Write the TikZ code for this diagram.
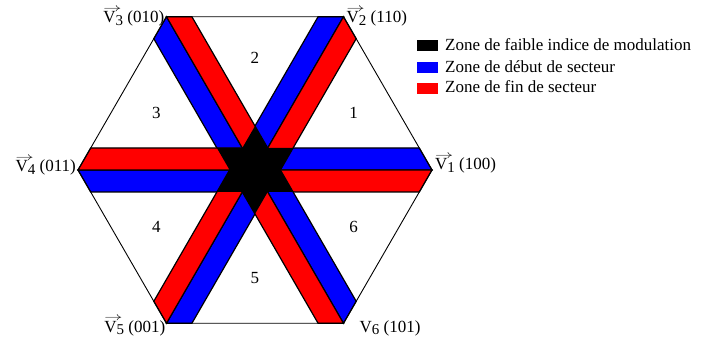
\documentclass[tikz,border=0pt]{standalone}
\usepackage{amsmath}
\usepackage{graphicx}
\usepackage{fontspec}
\setmainfont{Liberation Serif}
\usepackage{tikz}
\usetikzlibrary{positioning}

% vector name with a thin arrow and a lowered index
\newcommand{\vecV}[1]{\rlap{\raisebox{0.68em}{\scalebox{1.05}[0.65]{$\rightarrow$}}}V\raisebox{-0.15em}{\fontsize{15}{15}\selectfont #1}}

\begin{document}
\begin{tikzpicture}[
    x=1pt, y=1pt,
    blueband/.style={fill=blue, draw=black, line width=1.2pt, line join=miter},
    redband/.style={fill=red, draw=black, line width=1.2pt, line join=miter},
    lbl/.style={inner sep=0pt, font=\fontsize{17}{19}\selectfont},
    key/.style={minimum width=21pt, minimum height=11pt, inner sep=0pt, anchor=west}
]
\useasboundingbox (-255,-172) rectangle (455,170);

% hexagon corners
\coordinate (V1) at (0:177);
\coordinate (V2) at (60:177);
\coordinate (V3) at (120:177);
\coordinate (V4) at (180:177);
\coordinate (V5) at (240:177);
\coordinate (V6) at (300:177);

% bands, blue at the start of a sector, red at its end
\filldraw[blueband, rotate=0]   (0,0) -- (177,0) -- (164.3,22) -- (0,22) -- cycle;
\filldraw[redband,  rotate=0]   (0,0) -- (177,0) -- (164.3,-22) -- (0,-22) -- cycle;
\filldraw[blueband, rotate=60]  (0,0) -- (177,0) -- (164.3,22) -- (0,22) -- cycle;
\filldraw[redband,  rotate=60]  (0,0) -- (177,0) -- (164.3,-22) -- (0,-22) -- cycle;
\filldraw[blueband, rotate=120] (0,0) -- (177,0) -- (164.3,22) -- (0,22) -- cycle;
\filldraw[redband,  rotate=120] (0,0) -- (177,0) -- (164.3,-22) -- (0,-22) -- cycle;
\filldraw[blueband, rotate=180] (0,0) -- (177,0) -- (164.3,22) -- (0,22) -- cycle;
\filldraw[redband,  rotate=180] (0,0) -- (177,0) -- (164.3,-22) -- (0,-22) -- cycle;
\filldraw[blueband, rotate=240] (0,0) -- (177,0) -- (164.3,22) -- (0,22) -- cycle;
\filldraw[redband,  rotate=240] (0,0) -- (177,0) -- (164.3,-22) -- (0,-22) -- cycle;
\filldraw[blueband, rotate=300] (0,0) -- (177,0) -- (164.3,22) -- (0,22) -- cycle;
\filldraw[redband,  rotate=300] (0,0) -- (177,0) -- (164.3,-22) -- (0,-22) -- cycle;

% low modulation index star
\fill[black] (30:44) -- (60:25.4) -- (90:44) -- (120:25.4) -- (150:44) -- (180:25.4)
  -- (210:44) -- (240:25.4) -- (270:44) -- (300:25.4) -- (330:44) -- (0:25.4) -- cycle;

\draw[line width=0.9pt] (V1) -- (V2) -- (V3) -- (V4) -- (V5) -- (V6) -- cycle;

% sectors
\node[lbl] (s1) at (30:114)  {1};
\node[lbl] (s2) at (90:112)  {2};
\node[lbl] (s3) at (150:114) {3};
\node[lbl] (s4) at (210:114) {4};
\node[lbl] (s5) at (270:108) {5};
\node[lbl] (s6) at (330:114) {6};

% vectors
\node[lbl, anchor=base west] (l1) at ([shift={(3,0)}]V1)   {\vecV{1} (100)};
\node[lbl, anchor=base west] (l2) at ([shift={(3,-6)}]V2)  {\vecV{2} (110)};
\node[lbl, anchor=base east] (l3) at ([shift={(-2,-6)}]V3) {\vecV{3} (010)};
\node[lbl, anchor=base east] (l4) at ([shift={(-2,-2)}]V4) {\vecV{4} (011)};
\node[lbl, anchor=base east] (l5) at ([shift={(-1,-9)}]V5) {\vecV{5} (001)};
\node[lbl, anchor=base west] (l6) at ([shift={(16,-9)}]V6) {V\raisebox{-0.15em}{\fontsize{15}{15}\selectfont 6} (101)};

% legend
\node[key, fill=black] (kblack) at (162,124) {};
\node[key, fill=blue]  (kblue)  at (162,102.5) {};
\node[key, fill=red]   (kred)   at (162,81.5) {};
\node[lbl, anchor=base west] (tblack) at (190,119) {Zone de faible indice de modulation};
\node[lbl, anchor=base west] (tblue)  at (190,97)  {Zone de début de secteur};
\node[lbl, anchor=base west] (tred)   at (190,77)  {Zone de fin de secteur};
\end{tikzpicture}
\end{document}
